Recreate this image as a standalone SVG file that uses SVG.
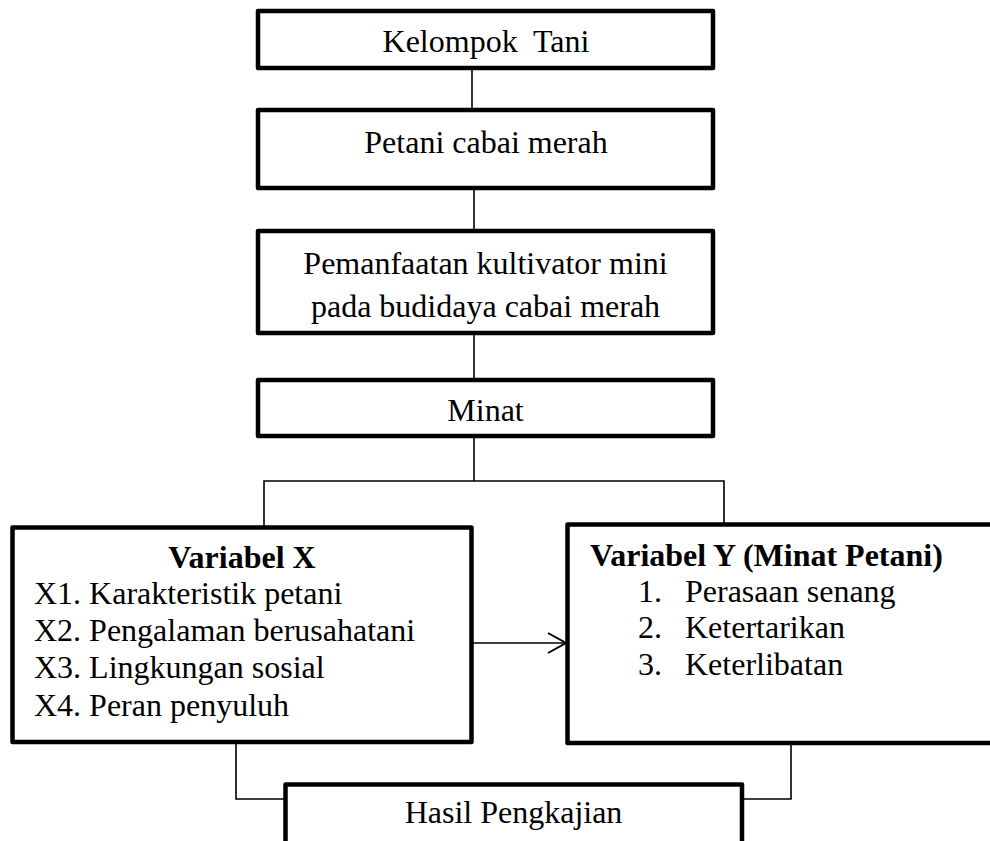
<svg xmlns="http://www.w3.org/2000/svg" width="990" height="841" viewBox="0 0 990 841">
<defs>
<style>
.box{fill:#fff;stroke:#000;stroke-width:4.5;stroke-linejoin:round}
.ln{fill:none;stroke:#000;stroke-width:1.6}
.t{font-family:'Liberation Serif','Times New Roman',Times,serif;font-size:32px;fill:#000}
.c{text-anchor:middle}
.b{font-weight:bold}
</style>
<marker id="arr" markerWidth="24" markerHeight="24" refX="20" refY="11" orient="auto" markerUnits="userSpaceOnUse">
<path d="M2,1 L20,11 L2,21" fill="none" stroke="#000" stroke-width="2"/>
</marker>
</defs>
<rect width="990" height="841" fill="#fff"/>
<g id="connectors">
<line class="ln" x1="472" y1="69" x2="472" y2="110"/>
<line class="ln" x1="474" y1="188" x2="474" y2="231"/>
<line class="ln" x1="474" y1="333" x2="474" y2="380"/>
<line class="ln" x1="474" y1="436" x2="474" y2="481"/>
<polyline class="ln" points="264,527 264,481 724,481 724,524"/>
<line class="ln" x1="473" y1="643" x2="566" y2="643" marker-end="url(#arr)"/>
<polyline class="ln" points="236,742 236,799 285,799"/>
<polyline class="ln" points="791,743 791,799 742,799"/>
</g>
<g id="kelompok-tani">
<rect class="box" x="258" y="11" width="455" height="57"/>
<text class="t c" x="486" y="52" xml:space="preserve">Kelompok  Tani</text>
</g>
<g id="petani">
<rect class="box" x="258" y="110" width="455" height="78"/>
<text class="t c" x="486" y="153">Petani cabai merah</text>
</g>
<g id="pemanfaatan">
<rect class="box" x="258" y="231" width="455" height="102"/>
<text class="t c" x="485.5" y="274">Pemanfaatan kultivator mini</text>
<text class="t c" x="485.5" y="317">pada budidaya cabai merah</text>
</g>
<g id="minat">
<rect class="box" x="258" y="380" width="455" height="56"/>
<text class="t c" x="485.5" y="421">Minat</text>
</g>
<g id="variabel-x">
<rect class="box" x="12.5" y="527.5" width="459" height="214.5"/>
<text class="t c b" x="242" y="568">Variabel X</text>
<text class="t" x="34" y="604">X1. Karakteristik petani</text>
<text class="t" x="34" y="641">X2. Pengalaman berusahatani</text>
<text class="t" x="34" y="678">X3. Lingkungan sosial</text>
<text class="t" x="34" y="716">X4. Peran penyuluh</text>
</g>
<g id="variabel-y">
<rect class="box" x="567.5" y="524.5" width="440" height="218.5"/>
<text class="t b" x="590" y="566">Variabel Y (Minat Petani)</text>
<text class="t" x="638" y="602">1.</text><text class="t" x="685" y="602">Perasaan senang</text>
<text class="t" x="638" y="638">2.</text><text class="t" x="685" y="638">Ketertarikan</text>
<text class="t" x="638" y="675">3.</text><text class="t" x="685" y="675">Keterlibatan</text>
</g>
<g id="hasil">
<rect class="box" x="285.5" y="784.5" width="456.5" height="80"/>
<text class="t c" x="513.5" y="823">Hasil Pengkajian</text>
</g>
</svg>
